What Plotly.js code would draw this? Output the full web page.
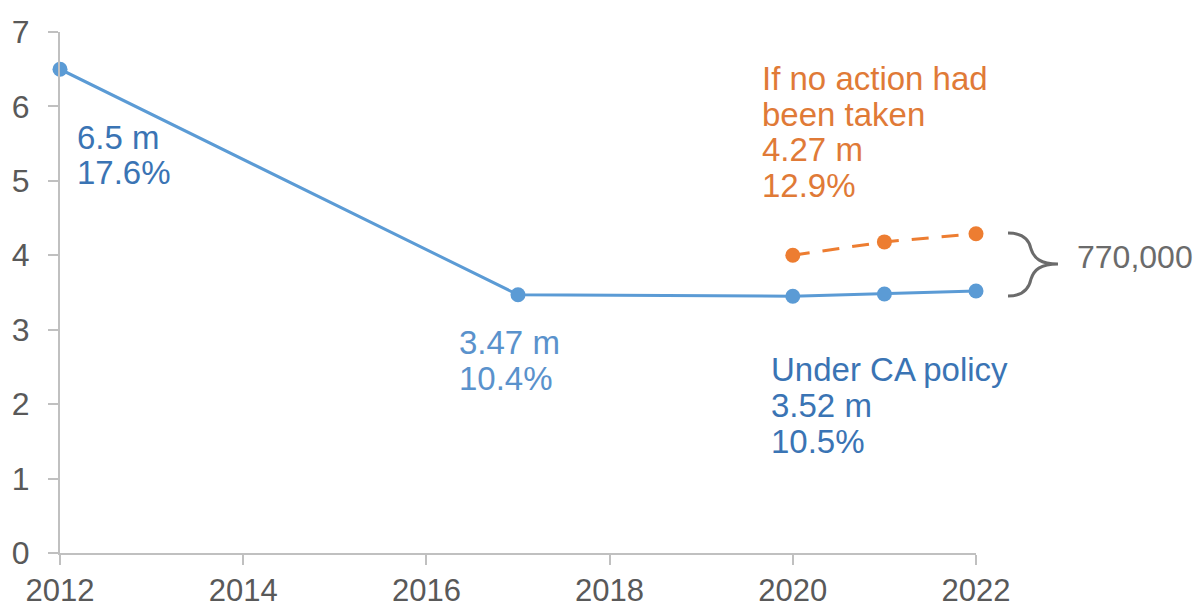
<!DOCTYPE html>
<html>
<head>
<meta charset="utf-8">
<script src="https://cdn.plot.ly/plotly-3.0.1.min.js"></script>
<style>html,body{margin:0;padding:0;background:#fff;}#chart{width:1199px;height:607px;}</style>
</head>
<body>
<div id="chart"></div>
<script>
// ---- data ----
var policyYears = [2012, 2017, 2020, 2021, 2022];
var policyValues = [6.5, 3.47, 3.45, 3.48, 3.52];
var noActionYears = [2020, 2021, 2022];
var noActionValues = [4.0, 4.18, 4.29];
var xTickVals = [2012, 2014, 2016, 2018, 2020, 2022];
var yTickVals = [0, 1, 2, 3, 4, 5, 6, 7];

var label2012 = ['6.5 m', '17.6%'];
var label2017 = ['3.47 m', '10.4%'];
var labelNoAction = ['If no action had', 'been taken', '4.27 m', '12.9%'];
var labelPolicy = ['Under CA policy', '3.52 m', '10.5%'];
var gapLabel = ['770,000'];

// ---- layout geometry ----
var W = 1199, H = 607;
var M = {l: 60, r: 223, t: 32, b: 54};
var plotW = W - M.l - M.r, plotH = H - M.t - M.b;
function px2paperX(px) { return (px - M.l) / plotW; }
function px2paperY(py) { return (H - M.b - py) / plotH; }

var FONT = 'Liberation Sans, Arial, Helvetica, sans-serif';
var BLUE = '#5b9bd5', BLUE_TXT = '#3a74b4', BLUE_TXT2 = '#5a92cc';
var ORANGE = '#ed7d31', ORANGE_TXT = '#e07a37', GRAY_TXT = '#595959';

var annotations = [];
function addBlock(lines, color, leftPx, firstCenterPx, step, size) {
  lines.forEach(function (t, i) {
    annotations.push({
      xref: 'paper', yref: 'paper',
      x: px2paperX(leftPx), y: px2paperY(firstCenterPx + i * step),
      xanchor: 'left', yanchor: 'middle',
      text: t, showarrow: false,
      font: {family: FONT, size: size, color: color}
    });
  });
}
addBlock(label2012, BLUE_TXT, 75, 137, 36, 33);
addBlock(label2017, BLUE_TXT2, 457, 342, 36, 33);
addBlock(labelNoAction, ORANGE_TXT, 760, 79, 35.5, 33);
addBlock(labelPolicy, BLUE_TXT, 769, 369, 36, 33);
addBlock(gapLabel, '#6b6b6b', 1075, 257, 36, 32);

var traces = [
  {
    x: policyYears, y: policyValues, type: 'scatter', mode: 'lines+markers',
    line: {color: BLUE, width: 3}, marker: {color: BLUE, size: 15},
    cliponaxis: false, hoverinfo: 'skip'
  },
  {
    x: noActionYears, y: noActionValues, type: 'scatter', mode: 'lines+markers',
    line: {color: ORANGE, width: 3, dash: '17px,13px'}, marker: {color: ORANGE, size: 15},
    cliponaxis: false, hoverinfo: 'skip'
  }
];

var braceShape = {
  type: 'path', xref: 'paper', yref: 'paper',
  xsizemode: 'pixel', ysizemode: 'pixel',
  xanchor: 1, yanchor: px2paperY(264),
  path: 'M 32 31 C 46 31 53 25 55 15 C 58 6 64 0 82 0 C 64 0 58 -6 55 -15 C 53 -25 46 -32 32 -32',
  line: {color: '#6b6b6b', width: 3}
};

var layout = {
  width: W, height: H,
  margin: M,
  paper_bgcolor: '#ffffff', plot_bgcolor: '#ffffff',
  showlegend: false,
  font: {family: FONT, color: GRAY_TXT},
  xaxis: {
    range: [2012, 2022], tickvals: xTickVals, ticktext: xTickVals.map(String),
    showgrid: false, zeroline: false, showline: true, linecolor: '#c0c0c0', linewidth: 2,
    ticks: 'outside', ticklen: 10, tickcolor: '#c0c0c0', tickwidth: 2,
    ticklabelstandoff: -1,
    tickfont: {family: FONT, size: 31, color: GRAY_TXT}
  },
  yaxis: {
    range: [0, 7], tickvals: yTickVals,
    showgrid: false, zeroline: false, showline: true, linecolor: '#c0c0c0', linewidth: 2,
    ticks: 'outside', ticklen: 10, tickcolor: '#c0c0c0', tickwidth: 2,
    ticklabelstandoff: 12,
    tickfont: {family: FONT, size: 32, color: GRAY_TXT}
  },
  annotations: annotations,
  shapes: [braceShape]
};

Plotly.newPlot('chart', traces, layout, {displayModeBar: false, staticPlot: true});
</script>
</body>
</html>
